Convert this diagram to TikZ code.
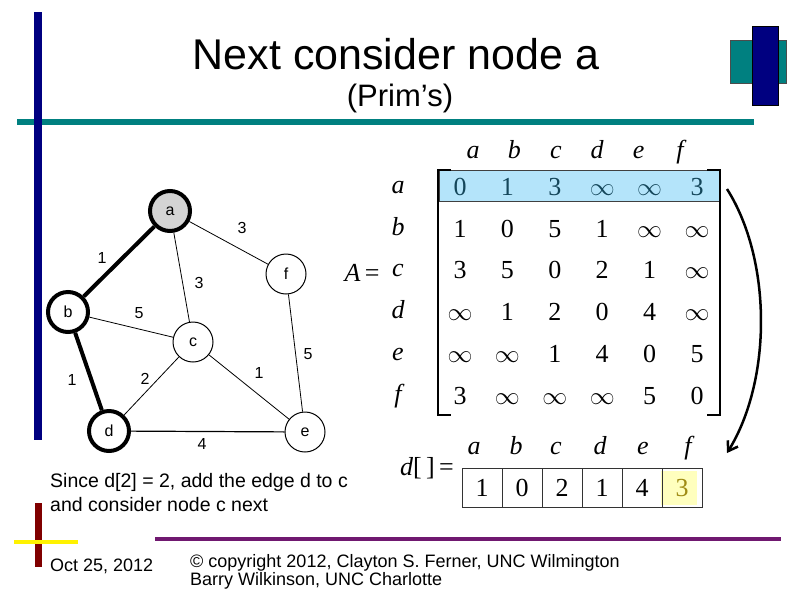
\documentclass[tikz,border=0pt]{standalone}
\usepackage{fontspec}
\setmainfont{Liberation Serif}
\newfontfamily\arial{Liberation Sans}
\usetikzlibrary{arrows.meta}

\definecolor{slidenavy}{RGB}{0,0,128}
\definecolor{slideteal}{RGB}{0,128,128}
\definecolor{slidered}{RGB}{128,0,0}
\definecolor{slidepurple}{RGB}{112,24,112}
\definecolor{rowblue}{RGB}{180,228,250}
\definecolor{rowtxt}{RGB}{20,70,90}
\definecolor{cellyellow}{RGB}{255,255,190}
\definecolor{cellolive}{RGB}{160,140,20}

\newcommand{\fsz}[1]{\fontsize{#1}{#1}\selectfont}
\newcommand{\infy}{{\fsz{29}$\infty$}}

\begin{document}
\begin{tikzpicture}[x=1pt, y=-1pt,
		v/.style = {circle, draw=black, line width=1, minimum size=40, inner sep=0, font=\arial\fsz{16}},
		vt/.style = {v, line width=4},
		w/.style = {font=\arial\fsz{16}},
		l/.style = {line width=0.8},
		lt/.style = {line width=4},
		num/.style = {font=\fsz{26}, text height=17, text depth=0},
		lab/.style = {font=\itshape\fsz{26}, text height=18, text depth=6},
		cell/.style = {draw=black!80, minimum width=40, minimum height=39, inner sep=0, font=\fsz{26}, text height=17, text depth=0},
		txt/.style = {anchor=west, align=left, inner sep=0}
		]
		\useasboundingbox (0,0) rectangle (794,595);
		
		%Bars
		\fill[slideteal]	(17,119)	rectangle	(754,125);
		\fill[slidenavy]	(34,12)	rectangle	(42,440);
		\draw[fill=slideteal, draw=black!70]	(730,40)	rectangle	(786,83);
		\draw[fill=slidenavy, draw=black]	(752,26)	rectangle	(778,105);
		\fill[slidered]	(35,503)	rectangle	(42,567);
		\fill[yellow]	(14,540)	rectangle	(78,544);
		\fill[slidepurple]	(155,537)	rectangle	(781,541);
		
		%Title
		\node[font=\arial\fsz{43}]	(title)	at	(396,54)	{Next consider node a};
		\node[font=\arial\fsz{31}]	(sub)	at	(400,98)	{(Prim’s)};
		
		%Nodes
		\node[vt, fill=black!17]	(a)	at	(170,211)	{a};
		\node[vt]	(b)	at	(68,312)	{b};
		\node[v]	(c)	at	(193,342)	{c};
		\node[vt]	(d)	at	(109,431)	{d};
		\node[v]	(e)	at	(305,432)	{e};
		\node[v]	(f)	at	(286,274)	{f};
		
		%Lines
		\draw[lt]	(a)	--	(b);
		\draw[lt]	(b)	--	(d);
		\draw[l]	(a)	--	(f);
		\draw[l]	(a)	--	(c);
		\draw[l]	(b)	--	(c);
		\draw[l]	(c)	--	(d);
		\draw[l]	(c)	--	(e);
		\draw[l]	(f)	--	(e);
		\draw[l, line width=1.2]	(d)	--	(e);
		
		%Weights
		\node[w]	(wab)	at	(102,258)	{1};
		\node[w]	(waf)	at	(242,228)	{3};
		\node[w]	(wac)	at	(199,283)	{3};
		\node[w]	(wbc)	at	(139,313)	{5};
		\node[w]	(wbd)	at	(72,380)	{1};
		\node[w]	(wcd)	at	(145,379)	{2};
		\node[w]	(wce)	at	(259,373)	{1};
		\node[w]	(wfe)	at	(308,354)	{5};
		\node[w]	(wde)	at	(202,444)	{4};
		
		%Matrix
		\node[num]	(A)	at	(362,273)	{\itshape A\upshape\,=};
		\draw[fill=rowblue, draw=black!75]	(439,170)	rectangle	(720,201);
		\foreach \c [count=\k] in {a,b,c,d,e,f}
			\node[lab]	(h\c)	at	(431.6+41.4*\k,152)	{\c};
		\foreach \r/\y/\col/\vals in {a/187/rowtxt/{0,1,3,\infy,\infy,3},
				b/229/black/{1,0,5,1,\infy,\infy},
				c/270/black/{3,5,0,2,1,\infy},
				d/312/black/{\infy,1,2,0,4,\infy},
				e/354/black/{\infy,\infy,1,4,0,5},
				f/396/black/{3,\infy,\infy,\infy,5,0}}{
			\node[lab]	(r\r)	at	(398,\y)	{\r};
			\foreach \v [count=\k] in \vals
				\node[num, text=\col]	(m\r\k)	at	(412.6+47.4*\k,\y)	{\v};
		}
		\draw[line width=1.5]	(451,170) -- (438,170) -- (438,415) -- (451,415);
		\draw[line width=1.5]	(707,170) -- (720,170) -- (720,415) -- (707,415);
		
		%Arrow
		\coordinate	(s)	at	(727,189);
		\coordinate	(t)	at	(727,453);
		\draw[line width=2.5, -{Straight Barb[length=9pt, width=12pt]}]	(s)	.. controls (772,260) and (772,380) ..	(t);
		
		%Distances
		\node[num]	(dl)	at	(427,467)	{\itshape d\upshape[\,]\,=};
		\foreach \c/\x in {a/474,b/516,c/556,d/600,e/643,f/688}
			\node[lab]	(g\c)	at	(\x,448)	{\c};
		\fill[cellyellow]	(661,471)	rectangle	(697,505);
		\foreach \v [count=\k] in {1,0,2,1,4}
			\node[cell]	(d\k)	at	(442+40*\k,487.5)	{\v};
		\node[cell, text=cellolive]	(d6)	at	(682,487.5)	{3};
		
		%Text
		\node[txt, font=\arial\fontsize{19.5}{24}\selectfont]	(note)	at	(50,493)	{Since d[2] = 2, add the edge d to c\\and consider node c next};
		\node[txt, font=\arial\fsz{18}]	(date)	at	(50,566)	{Oct 25, 2012};
		\node[txt, font=\arial\fsz{18}]	(copy)	at	(190,572)	{\textcopyright{} copyright 2012, Clayton S. Ferner, UNC Wilmington\\Barry Wilkinson, UNC Charlotte};
	\end{tikzpicture}
\end{document}
